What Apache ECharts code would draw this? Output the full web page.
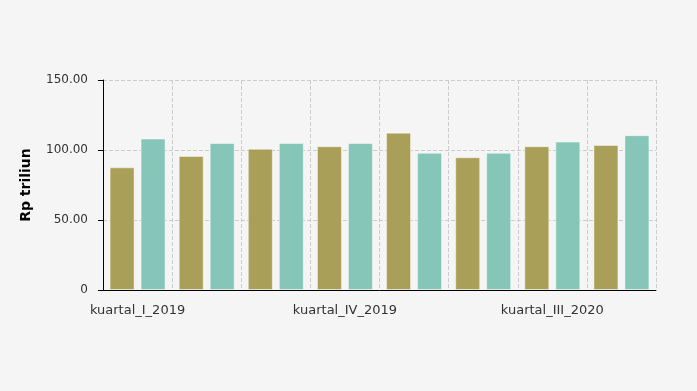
<!DOCTYPE html>
<html>
<head>
<meta charset="utf-8">
<script src="https://cdn.jsdelivr.net/npm/echarts@6/dist/echarts.min.js"></script>
<style>html,body{margin:0;padding:0;background:#f5f5f5;}#c{width:697px;height:391px;}</style>
</head>
<body>
<div id="c"></div>
<script>
var categories = ['kuartal_I_2019','kuartal_II_2019','kuartal_III_2019','kuartal_IV_2019','kuartal_I_2020','kuartal_II_2020','kuartal_III_2020','kuartal_IV_2020'];
var seriesA = [87.6, 95.7, 100.9, 102.7, 112.4, 94.8, 102.7, 103.6];
var seriesB = [108.2, 105.0, 105.0, 105.0, 98.0, 98.0, 106.0, 110.6];
var yTicks = [0, 50, 100, 150];

var chart = echarts.init(document.getElementById('c'));
chart.setOption({
  backgroundColor: '#f5f5f5',
  animation: false,
  textStyle: { fontFamily: 'DejaVu Sans' },
  grid: { left: 103, right: 41, top: 80, bottom: 101 },
  xAxis: {
    type: 'category',
    data: categories,
    axisLine: { lineStyle: { color: '#000' } },
    axisTick: { alignWithLabel: true, interval: 2, length: 5, lineStyle: { color: '#000' } },
    axisLabel: { interval: 2, color: '#333', fontSize: 13, margin: 14 },
    splitLine: { show: true, interval: 0, lineStyle: { color: '#ccc', type: 'dashed' } }
  },
  yAxis: {
    type: 'value',
    min: yTicks[0], max: yTicks[yTicks.length - 1], interval: 50,
    name: 'Rp triliun',
    nameLocation: 'middle',
    nameGap: 70,
    nameTextStyle: { fontSize: 14, fontWeight: 'bold', color: '#000' },
    axisLine: { show: true, lineStyle: { color: '#000' } },
    axisTick: { show: true, length: 5, lineStyle: { color: '#000' } },
    axisLabel: { color: '#333', fontSize: 12, margin: 15,
      formatter: function (v) { return v === 0 ? '0' : v.toFixed(2); } },
    splitLine: { show: true, lineStyle: { color: '#ccc', type: 'dashed' } }
  },
  series: [
    { type: 'bar', data: seriesA, barWidth: 25, barGap: '24%',
      itemStyle: { color: '#aa9f58', borderColor: 'rgba(255,255,255,0.45)', borderWidth: 1 } },
    { type: 'bar', data: seriesB, barWidth: 25, barGap: '24%',
      itemStyle: { color: '#85c6b9', borderColor: 'rgba(255,255,255,0.45)', borderWidth: 1 } }
  ]
});
</script>
</body>
</html>
